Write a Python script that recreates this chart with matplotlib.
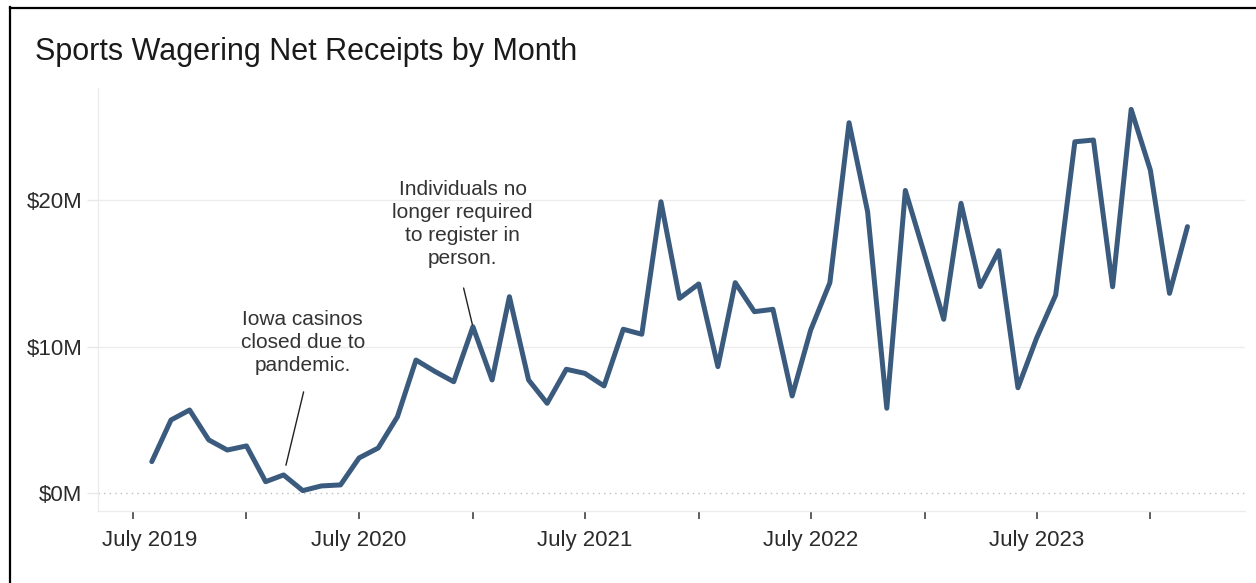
import matplotlib
matplotlib.use("Agg")
import matplotlib.pyplot as plt
import matplotlib.dates as mdates
from matplotlib.lines import Line2D
from matplotlib.transforms import ScaledTranslation
import pandas as pd

plt.rcParams['font.family'] = ['Liberation Sans', 'DejaVu Sans']

# ---- data ----
months = ["2019-08", "2019-09", "2019-10", "2019-11", "2019-12",
          "2020-01", "2020-02", "2020-03", "2020-04", "2020-05", "2020-06",
          "2020-07", "2020-08", "2020-09", "2020-10", "2020-11", "2020-12",
          "2021-01", "2021-02", "2021-03", "2021-04", "2021-05", "2021-06",
          "2021-07", "2021-08", "2021-09", "2021-10", "2021-11", "2021-12",
          "2022-01", "2022-02", "2022-03", "2022-04", "2022-05", "2022-06",
          "2022-07", "2022-08", "2022-09", "2022-10", "2022-11", "2022-12",
          "2023-01", "2023-02", "2023-03", "2023-04", "2023-05", "2023-06",
          "2023-07", "2023-08", "2023-09", "2023-10", "2023-11", "2023-12",
          "2024-01", "2024-02", "2024-03"]
receipts_m = [2.16, 5.00, 5.68, 3.64, 2.95,
              3.23, 0.79, 1.25, 0.18, 0.50, 0.57,
              2.41, 3.09, 5.22, 9.09, 8.30, 7.61,
              11.36, 7.73, 13.41, 7.73, 6.14, 8.46,
              8.18, 7.32, 11.19, 10.85, 19.89, 13.30,
              14.28, 8.64, 14.37, 12.39, 12.55, 6.64,
              11.14, 14.37, 25.28, 19.21, 5.80, 20.66,
              16.30, 11.87, 19.78, 14.10, 16.55, 7.20,
              10.57, 13.53, 23.98, 24.10, 14.09, 26.19,
              22.05, 13.64, 18.19]
y_ticks = [0, 10, 20]
y_tick_labels = ["$0M", "$10M", "$20M"]
title = "Sports Wagering Net Receipts by Month"
annotations = [
    ("2020-03", "Iowa casinos\nclosed due to\npandemic."),
    ("2021-01", "Individuals no\nlonger required\nto register in\nperson."),
]

dates = pd.to_datetime(months, format="%Y-%m")

W, H = 1256, 583
fig = plt.figure(figsize=(W / 100, H / 100), dpi=100)
fig.patch.set_facecolor("white")

left_px, right_px, top_px, bottom_px = 98, 1245, 88, 511
ax = fig.add_axes([left_px / W, 1 - bottom_px / H,
                   (right_px - left_px) / W, (bottom_px - top_px) / H])

line_color = "#3b5b7e"
ax.plot(dates, receipts_m, color=line_color, lw=3.6,
        solid_joinstyle="round", solid_capstyle="round", zorder=3)

# axes limits
ax.set_xlim(pd.Timestamp("2019-05-06"), pd.Timestamp("2024-06-02"))
ax.set_ylim(-1.21, 27.65)

# y axis
ax.set_yticks(y_ticks)
ax.set_yticklabels(y_tick_labels)
ax.tick_params(axis="y", length=8, width=1, color="#e8e8e8", pad=3.3,
               labelsize=16, labelcolor="#2b2b2b")
for yv in y_ticks:
    if yv == 0:
        ax.axhline(yv, color="#bdbdbd", lw=1.0, ls=(0, (1, 3)), zorder=1)
    else:
        ax.axhline(yv, color="#ececec", lw=1.0, zorder=1)

# x axis
ax.xaxis.set_major_locator(mdates.MonthLocator(bymonth=[7]))
ax.xaxis.set_minor_locator(mdates.MonthLocator(bymonth=[1]))
ax.xaxis.set_major_formatter(mdates.DateFormatter("July %Y"))
ax.tick_params(axis="x", which="both", length=5.5, width=1.1, color="#333333",
               direction="out")
ax.tick_params(axis="x", which="major", pad=8, labelsize=16, labelcolor="#2b2b2b")

for side in ["top", "right"]:
    ax.spines[side].set_visible(False)
for side in ["left", "bottom"]:
    ax.spines[side].set_color("#ececec")
    ax.spines[side].set_linewidth(1.0)

# first x label shifted right so it stays inside the pane
fig.canvas.draw()
xlabels = ax.get_xticklabels()
if xlabels:
    lab = xlabels[0]
    lab.set_transform(lab.get_transform() + ScaledTranslation(17 / 100, 0, fig.dpi_scale_trans))

# annotations
ann_style = dict(fontsize=15, color="#333333", ha="center", va="bottom",
                 linespacing=1.27, textcoords="offset points")
key_to_idx = {m: i for i, m in enumerate(months)}
# Iowa casinos closed
i1 = key_to_idx[annotations[0][0]]
ax.annotate("", xy=(dates[i1], receipts_m[i1]), xytext=(14.4, 59.8),
            textcoords="offset points",
            arrowprops=dict(arrowstyle="-", color="#222222", lw=1.0,
                            shrinkA=0, shrinkB=7.2))
ax.annotate(annotations[0][1], xy=(dates[i1], receipts_m[i1]),
            xytext=(13.7, 72), **ann_style)
# Individuals no longer required
i2 = key_to_idx[annotations[1][0]]
ax.annotate("", xy=(dates[i2], receipts_m[i2]), xytext=(-6.7, 27.9),
            textcoords="offset points",
            arrowprops=dict(arrowstyle="-", color="#222222", lw=1.0,
                            shrinkA=0, shrinkB=1.5))
ax.annotate(annotations[1][1], xy=(dates[i2], receipts_m[i2]),
            xytext=(-7.4, 42), **ann_style)

# title
fig.text(35 / W, 1 - 60 / H, title, fontsize=22, color="#1a1a1a",
         ha="left", va="baseline")

# outer frame (left and top)
fig.add_artist(Line2D([10 / W, 10 / W], [0, 1 - 7 / H], transform=fig.transFigure,
                      color="black", lw=1.6))
fig.add_artist(Line2D([10 / W, 1], [1 - 7.5 / H, 1 - 7.5 / H], transform=fig.transFigure,
                      color="black", lw=1.6))

fig.savefig("out.png", dpi=100, facecolor="white")
